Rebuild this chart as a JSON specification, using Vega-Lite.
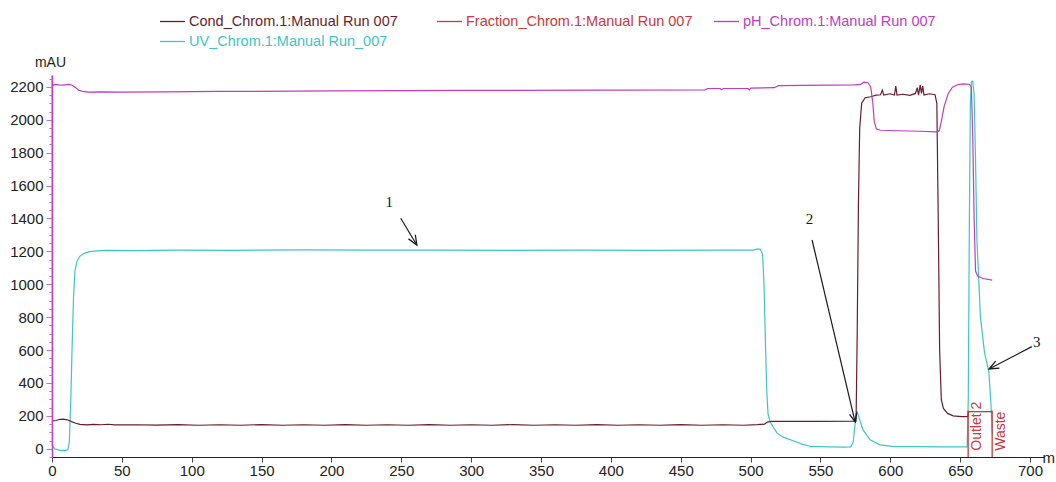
{
  "$schema": "https://vega.github.io/schema/vega-lite/v6.json",
  "width": 992,
  "height": 382,
  "autosize": {"type": "none"},
  "padding": {"left": 52, "top": 75, "right": 12, "bottom": 25},
  "background": "white",
  "config": {
    "view": {"stroke": null},
    "font": "Liberation Sans",
    "axis": {"grid": false, "labelFont": "Liberation Sans", "titleFont": "Liberation Sans"}
  },
  "resolve": {"scale": {"y": "shared", "x": "shared"}, "axis": {"y": "independent"}},
  "datasets": {
    "traces": [
      {"series": "UV", "ml": 0, "mAU": 2268}, {"series": "UV", "ml": 0.3, "mAU": 20}, {"series": "UV", "ml": 2, "mAU": 0},
      {"series": "UV", "ml": 4, "mAU": -5}, {"series": "UV", "ml": 6, "mAU": -10}, {"series": "UV", "ml": 10, "mAU": -10},
      {"series": "UV", "ml": 11.4, "mAU": -6}, {"series": "UV", "ml": 12.4, "mAU": 40}, {"series": "UV", "ml": 13.4, "mAU": 280},
      {"series": "UV", "ml": 14.4, "mAU": 620}, {"series": "UV", "ml": 15.4, "mAU": 920}, {"series": "UV", "ml": 16.4, "mAU": 1080},
      {"series": "UV", "ml": 17.9, "mAU": 1140}, {"series": "UV", "ml": 19.9, "mAU": 1170}, {"series": "UV", "ml": 22.9, "mAU": 1188},
      {"series": "UV", "ml": 26.8, "mAU": 1198}, {"series": "UV", "ml": 31.8, "mAU": 1203}, {"series": "UV", "ml": 39.8, "mAU": 1206},
      {"series": "UV", "ml": 59.7, "mAU": 1204}, {"series": "UV", "ml": 89.5, "mAU": 1208}, {"series": "UV", "ml": 129.3, "mAU": 1206},
      {"series": "UV", "ml": 179, "mAU": 1209}, {"series": "UV", "ml": 228.7, "mAU": 1207}, {"series": "UV", "ml": 278.4, "mAU": 1208},
      {"series": "UV", "ml": 328.1, "mAU": 1206}, {"series": "UV", "ml": 377.8, "mAU": 1207}, {"series": "UV", "ml": 427.5, "mAU": 1206},
      {"series": "UV", "ml": 477.3, "mAU": 1207}, {"series": "UV", "ml": 502.1, "mAU": 1208}, {"series": "UV", "ml": 505.1, "mAU": 1215},
      {"series": "UV", "ml": 507.1, "mAU": 1212}, {"series": "UV", "ml": 508.6, "mAU": 1180}, {"series": "UV", "ml": 509.6, "mAU": 1000},
      {"series": "UV", "ml": 510.6, "mAU": 650}, {"series": "UV", "ml": 511.6, "mAU": 350}, {"series": "UV", "ml": 512.5, "mAU": 210},
      {"series": "UV", "ml": 514, "mAU": 165}, {"series": "UV", "ml": 516, "mAU": 134}, {"series": "UV", "ml": 519, "mAU": 95},
      {"series": "UV", "ml": 523, "mAU": 72}, {"series": "UV", "ml": 530, "mAU": 50}, {"series": "UV", "ml": 536.9, "mAU": 28},
      {"series": "UV", "ml": 542.9, "mAU": 14}, {"series": "UV", "ml": 556.8, "mAU": 12}, {"series": "UV", "ml": 566.7, "mAU": 10},
      {"series": "UV", "ml": 571.7, "mAU": 12}, {"series": "UV", "ml": 573.4, "mAU": 40}, {"series": "UV", "ml": 574.8, "mAU": 150},
      {"series": "UV", "ml": 576.2, "mAU": 230}, {"series": "UV", "ml": 577.7, "mAU": 185}, {"series": "UV", "ml": 580.5, "mAU": 115},
      {"series": "UV", "ml": 585.5, "mAU": 55}, {"series": "UV", "ml": 592.7, "mAU": 24}, {"series": "UV", "ml": 601.5, "mAU": 15},
      {"series": "UV", "ml": 616.5, "mAU": 13}, {"series": "UV", "ml": 636.3, "mAU": 12}, {"series": "UV", "ml": 655, "mAU": 12},
      {"series": "UV", "ml": 655.8, "mAU": 300}, {"series": "UV", "ml": 656.6, "mAU": 1400}, {"series": "UV", "ml": 657.3, "mAU": 2100},
      {"series": "UV", "ml": 658, "mAU": 2232}, {"series": "UV", "ml": 659, "mAU": 2235}, {"series": "UV", "ml": 660, "mAU": 2150},
      {"series": "UV", "ml": 661, "mAU": 1750}, {"series": "UV", "ml": 662, "mAU": 1270}, {"series": "UV", "ml": 664.5, "mAU": 800},
      {"series": "UV", "ml": 667.5, "mAU": 580}, {"series": "UV", "ml": 670.5, "mAU": 470}, {"series": "UV", "ml": 672, "mAU": 280},
      {"series": "UV", "ml": 673, "mAU": 90},

      {"series": "Cond", "ml": 0, "mAU": 170}, {"series": "Cond", "ml": 3, "mAU": 172}, {"series": "Cond", "ml": 5, "mAU": 178},
      {"series": "Cond", "ml": 8, "mAU": 180}, {"series": "Cond", "ml": 11, "mAU": 176}, {"series": "Cond", "ml": 14, "mAU": 165},
      {"series": "Cond", "ml": 17, "mAU": 155}, {"series": "Cond", "ml": 20, "mAU": 148}, {"series": "Cond", "ml": 25, "mAU": 145},
      {"series": "Cond", "ml": 30, "mAU": 148}, {"series": "Cond", "ml": 35, "mAU": 146}, {"series": "Cond", "ml": 40, "mAU": 149},
      {"series": "Cond", "ml": 45, "mAU": 145}, {"series": "Cond", "ml": 60, "mAU": 146}, {"series": "Cond", "ml": 75, "mAU": 144},
      {"series": "Cond", "ml": 90, "mAU": 147}, {"series": "Cond", "ml": 105, "mAU": 143}, {"series": "Cond", "ml": 120, "mAU": 146},
      {"series": "Cond", "ml": 135, "mAU": 143}, {"series": "Cond", "ml": 150, "mAU": 147}, {"series": "Cond", "ml": 165, "mAU": 143},
      {"series": "Cond", "ml": 180, "mAU": 146}, {"series": "Cond", "ml": 195, "mAU": 143}, {"series": "Cond", "ml": 210, "mAU": 147},
      {"series": "Cond", "ml": 225, "mAU": 143}, {"series": "Cond", "ml": 240, "mAU": 146}, {"series": "Cond", "ml": 255, "mAU": 143},
      {"series": "Cond", "ml": 270, "mAU": 147}, {"series": "Cond", "ml": 285, "mAU": 143}, {"series": "Cond", "ml": 300, "mAU": 146},
      {"series": "Cond", "ml": 315, "mAU": 143}, {"series": "Cond", "ml": 330, "mAU": 147}, {"series": "Cond", "ml": 345, "mAU": 143},
      {"series": "Cond", "ml": 360, "mAU": 146}, {"series": "Cond", "ml": 375, "mAU": 143}, {"series": "Cond", "ml": 390, "mAU": 147},
      {"series": "Cond", "ml": 405, "mAU": 143}, {"series": "Cond", "ml": 420, "mAU": 146}, {"series": "Cond", "ml": 435, "mAU": 143},
      {"series": "Cond", "ml": 450, "mAU": 147}, {"series": "Cond", "ml": 465, "mAU": 143}, {"series": "Cond", "ml": 480, "mAU": 146},
      {"series": "Cond", "ml": 495, "mAU": 143}, {"series": "Cond", "ml": 505, "mAU": 147}, {"series": "Cond", "ml": 510, "mAU": 150},
      {"series": "Cond", "ml": 512, "mAU": 162}, {"series": "Cond", "ml": 515, "mAU": 166}, {"series": "Cond", "ml": 547, "mAU": 166},
      {"series": "Cond", "ml": 575.5, "mAU": 168}, {"series": "Cond", "ml": 576.3, "mAU": 700}, {"series": "Cond", "ml": 577.2, "mAU": 1500},
      {"series": "Cond", "ml": 578.1, "mAU": 1950}, {"series": "Cond", "ml": 579.5, "mAU": 2100}, {"series": "Cond", "ml": 582, "mAU": 2134},
      {"series": "Cond", "ml": 586, "mAU": 2140}, {"series": "Cond", "ml": 590, "mAU": 2150}, {"series": "Cond", "ml": 593, "mAU": 2152},
      {"series": "Cond", "ml": 594.3, "mAU": 2180}, {"series": "Cond", "ml": 595.3, "mAU": 2150}, {"series": "Cond", "ml": 600, "mAU": 2158},
      {"series": "Cond", "ml": 603, "mAU": 2150}, {"series": "Cond", "ml": 603.9, "mAU": 2205}, {"series": "Cond", "ml": 604.8, "mAU": 2150},
      {"series": "Cond", "ml": 609, "mAU": 2155}, {"series": "Cond", "ml": 614, "mAU": 2148}, {"series": "Cond", "ml": 618, "mAU": 2160},
      {"series": "Cond", "ml": 619.3, "mAU": 2195}, {"series": "Cond", "ml": 620.2, "mAU": 2150}, {"series": "Cond", "ml": 621.4, "mAU": 2212},
      {"series": "Cond", "ml": 622.3, "mAU": 2160}, {"series": "Cond", "ml": 623.2, "mAU": 2205}, {"series": "Cond", "ml": 624.1, "mAU": 2150},
      {"series": "Cond", "ml": 628, "mAU": 2158}, {"series": "Cond", "ml": 632, "mAU": 2152}, {"series": "Cond", "ml": 633.3, "mAU": 2100},
      {"series": "Cond", "ml": 634.3, "mAU": 1400}, {"series": "Cond", "ml": 635.3, "mAU": 600}, {"series": "Cond", "ml": 636.5, "mAU": 300},
      {"series": "Cond", "ml": 638, "mAU": 245}, {"series": "Cond", "ml": 641, "mAU": 215}, {"series": "Cond", "ml": 645, "mAU": 200},
      {"series": "Cond", "ml": 651, "mAU": 196}, {"series": "Cond", "ml": 655.5, "mAU": 196}, {"series": "Cond", "ml": 655.9, "mAU": 225},
      {"series": "Cond", "ml": 672.9, "mAU": 225},

      {"series": "pH", "ml": 0, "mAU": 2205}, {"series": "pH", "ml": 2, "mAU": 2215}, {"series": "pH", "ml": 5, "mAU": 2212},
      {"series": "pH", "ml": 8, "mAU": 2210}, {"series": "pH", "ml": 12, "mAU": 2215}, {"series": "pH", "ml": 14.5, "mAU": 2210},
      {"series": "pH", "ml": 17, "mAU": 2195}, {"series": "pH", "ml": 19, "mAU": 2180}, {"series": "pH", "ml": 22, "mAU": 2172},
      {"series": "pH", "ml": 26, "mAU": 2168}, {"series": "pH", "ml": 35, "mAU": 2170}, {"series": "pH", "ml": 50, "mAU": 2168},
      {"series": "pH", "ml": 80, "mAU": 2170}, {"series": "pH", "ml": 120, "mAU": 2172}, {"series": "pH", "ml": 200, "mAU": 2175},
      {"series": "pH", "ml": 300, "mAU": 2178}, {"series": "pH", "ml": 400, "mAU": 2180}, {"series": "pH", "ml": 467.3, "mAU": 2182},
      {"series": "pH", "ml": 469.3, "mAU": 2190}, {"series": "pH", "ml": 478.2, "mAU": 2190}, {"series": "pH", "ml": 479.2, "mAU": 2182},
      {"series": "pH", "ml": 480.7, "mAU": 2190}, {"series": "pH", "ml": 498.1, "mAU": 2190}, {"series": "pH", "ml": 499.1, "mAU": 2182},
      {"series": "pH", "ml": 500.1, "mAU": 2192}, {"series": "pH", "ml": 517, "mAU": 2195}, {"series": "pH", "ml": 520, "mAU": 2207},
      {"series": "pH", "ml": 556.8, "mAU": 2210}, {"series": "pH", "ml": 574.7, "mAU": 2212}, {"series": "pH", "ml": 578.7, "mAU": 2215},
      {"series": "pH", "ml": 581, "mAU": 2228}, {"series": "pH", "ml": 584, "mAU": 2225}, {"series": "pH", "ml": 586, "mAU": 2200},
      {"series": "pH", "ml": 587.5, "mAU": 2100}, {"series": "pH", "ml": 588.5, "mAU": 1990}, {"series": "pH", "ml": 590, "mAU": 1945},
      {"series": "pH", "ml": 593, "mAU": 1936}, {"series": "pH", "ml": 606, "mAU": 1933}, {"series": "pH", "ml": 621, "mAU": 1930},
      {"series": "pH", "ml": 633, "mAU": 1926}, {"series": "pH", "ml": 635, "mAU": 1932}, {"series": "pH", "ml": 636.5, "mAU": 1990},
      {"series": "pH", "ml": 638.5, "mAU": 2080}, {"series": "pH", "ml": 641.5, "mAU": 2160}, {"series": "pH", "ml": 644.5, "mAU": 2198},
      {"series": "pH", "ml": 648, "mAU": 2213}, {"series": "pH", "ml": 652, "mAU": 2218}, {"series": "pH", "ml": 656.5, "mAU": 2216},
      {"series": "pH", "ml": 658, "mAU": 2200}, {"series": "pH", "ml": 659, "mAU": 1900}, {"series": "pH", "ml": 660, "mAU": 1400},
      {"series": "pH", "ml": 661, "mAU": 1080}, {"series": "pH", "ml": 662.5, "mAU": 1050}, {"series": "pH", "ml": 666.5, "mAU": 1035},
      {"series": "pH", "ml": 672.9, "mAU": 1025}
    ],
    "fractions": [
      {"series": "Fraction", "ml": 655.7, "label": "Outlet 2"},
      {"series": "Fraction", "ml": 672.9, "label": "Waste"}
    ],
    "callout_tags": [
      {"tag": "1", "ml": 241.4, "mAU": 1502},
      {"tag": "2", "ml": 542.1, "mAU": 1395},
      {"tag": "3", "ml": 704.9, "mAU": 651}
    ],
    "callout_lines": [
      {"tag": "1", "ml": 249.6, "mAU": 1401, "ml_tip": 261.1, "mAU_tip": 1239},
      {"tag": "2", "ml": 544.0, "mAU": 1269, "ml_tip": 574.8, "mAU_tip": 163},
      {"tag": "3", "ml": 701.3, "mAU": 621, "ml_tip": 670.7, "mAU_tip": 485}
    ],
    "callout_tips": [
      {"tag": "1", "ml": 261.1, "mAU": 1239},
      {"tag": "2", "ml": 574.8, "mAU": 163},
      {"tag": "3", "ml": 670.7, "mAU": 485}
    ]
  },
  "layer": [
    {
      "data": {"name": "traces"},
      "mark": {"type": "line", "strokeWidth": 1.2, "interpolate": "linear"},
      "encoding": {
        "x": {
          "field": "ml", "type": "quantitative",
          "scale": {"domain": [0, 710], "nice": false, "zero": false},
          "axis": {
            "values": [0, 12.5, 25, 37.5, 50, 62.5, 75, 87.5, 100, 112.5, 125, 137.5, 150, 162.5, 175, 187.5, 200, 212.5, 225, 237.5, 250, 262.5, 275, 287.5, 300, 312.5, 325, 337.5, 350, 362.5, 375, 387.5, 400, 412.5, 425, 437.5, 450, 462.5, 475, 487.5, 500, 512.5, 525, 537.5, 550, 562.5, 575, 587.5, 600, 612.5, 625, 637.5, 650, 662.5, 675, 687.5, 700],
            "format": "d",
            "labelExpr": "datum.value % 50 === 0 ? datum.label : ''",
            "tickSize": {"condition": {"test": "datum.value % 50 === 0", "value": 5}, "value": 3},
            "labelOverlap": false,
            "labelFlush": false,
            "labelFontSize": 15,
            "labelColor": "#222",
            "labelPadding": 1,
            "domainColor": "#222",
            "domainWidth": 1.2,
            "tickColor": "#444",
            "title": "m",
            "titleX": 990,
            "titleY": 0,
            "titleAlign": "left",
            "titleBaseline": "middle",
            "titleFontSize": 15,
            "titleFontWeight": "normal",
            "titleColor": "#222"
          }
        },
        "y": {
          "field": "mAU", "type": "quantitative",
          "scale": {"domain": [-50, 2272], "nice": false, "zero": false},
          "axis": {
            "orient": "left",
            "values": [0, 200, 400, 600, 800, 1000, 1200, 1400, 1600, 1800, 2000, 2200],
            "format": "d",
            "tickSize": 6,
            "labelOverlap": false,
            "labelFlush": false,
            "labelFontSize": 15,
            "labelColor": "#222",
            "labelPadding": 3,
            "domainColor": "#c23bc2",
            "domainWidth": 1.5,
            "tickColor": "#c86ac8",
            "zindex": 1,
            "title": "mAU",
            "titleAngle": 0,
            "titleX": -2,
            "titleY": -13,
            "titleAlign": "center",
            "titleBaseline": "middle",
            "titleFontSize": 14,
            "titleFontWeight": "normal",
            "titleColor": "#222"
          }
        },
        "color": {
          "field": "series", "type": "nominal",
          "scale": {"domain": ["Cond", "Fraction", "pH", "UV"], "range": ["#6a1c2c", "#d0363a", "#c23bc2", "#3cc6c6"]},
          "legend": {
            "orient": "none",
            "legendX": 107,
            "legendY": -67,
            "direction": "horizontal",
            "columns": 3,
            "gridAlign": "all",
            "columnPadding": 18,
            "rowPadding": -6,
            "title": null,
            "symbolType": "stroke",
            "symbolSize": 625,
            "symbolStrokeWidth": 1.3,
            "labelFont": "Liberation Sans",
            "labelFontSize": 14.5,
            "labelOffset": 3,
            "labelLimit": 0,
            "labelExpr": "{'Cond': 'Cond_Chrom.1:Manual Run 007', 'Fraction': 'Fraction_Chrom.1:Manual Run 007', 'pH': 'pH_Chrom.1:Manual Run 007', 'UV': 'UV_Chrom.1:Manual Run_007'}[datum.label]",
            "encode": {"labels": {"update": {"fill": {"scale": "color", "field": "value"}}}}
          }
        }
      }
    },
    {
      "data": {"name": "fractions"},
      "mark": {"type": "rule", "strokeWidth": 1.3},
      "encoding": {
        "x": {"field": "ml", "type": "quantitative"},
        "y": {"datum": -50, "type": "quantitative", "axis": null},
        "y2": {"datum": 232},
        "color": {"field": "series", "type": "nominal"}
      }
    },
    {
      "data": {"name": "fractions"},
      "mark": {"type": "text", "angle": 270, "align": "left", "baseline": "top", "dy": 2, "fontSize": 14, "font": "Liberation Sans", "color": "#d0363a"},
      "encoding": {
        "x": {"field": "ml", "type": "quantitative"},
        "y": {"datum": -12, "type": "quantitative", "axis": null},
        "text": {"field": "label"}
      }
    },
    {
      "data": {"name": "callout_lines"},
      "mark": {"type": "rule", "strokeWidth": 1.2, "color": "#1a1a1a"},
      "encoding": {
        "x": {"field": "ml", "type": "quantitative"},
        "y": {"field": "mAU", "type": "quantitative", "axis": null},
        "x2": {"field": "ml_tip"},
        "y2": {"field": "mAU_tip"}
      }
    },
    {
      "data": {"name": "callout_tips"},
      "transform": [{"filter": "datum.tag === '1'"}],
      "mark": {"type": "point", "shape": "M-0.42,-1L0,0L0.42,-1", "size": 360, "filled": false, "stroke": "#1a1a1a", "strokeWidth": 1.3, "opacity": 1, "angle": 329},
      "encoding": {"x": {"field": "ml", "type": "quantitative"}, "y": {"field": "mAU", "type": "quantitative", "axis": null}}
    },
    {
      "data": {"name": "callout_tips"},
      "transform": [{"filter": "datum.tag === '2'"}],
      "mark": {"type": "point", "shape": "M-0.42,-1L0,0L0.42,-1", "size": 300, "filled": false, "stroke": "#1a1a1a", "strokeWidth": 1.3, "opacity": 1, "angle": 346.7},
      "encoding": {"x": {"field": "ml", "type": "quantitative"}, "y": {"field": "mAU", "type": "quantitative", "axis": null}}
    },
    {
      "data": {"name": "callout_tips"},
      "transform": [{"filter": "datum.tag === '3'"}],
      "mark": {"type": "point", "shape": "M-0.42,-1L0,0L0.42,-1", "size": 360, "filled": false, "stroke": "#1a1a1a", "strokeWidth": 1.3, "opacity": 1, "angle": 62.4},
      "encoding": {"x": {"field": "ml", "type": "quantitative"}, "y": {"field": "mAU", "type": "quantitative", "axis": null}}
    },
    {
      "data": {"name": "callout_tags"},
      "mark": {"type": "text", "font": "Liberation Serif", "fontSize": 15, "color": "#1a1a1a", "align": "center", "baseline": "middle"},
      "encoding": {
        "x": {"field": "ml", "type": "quantitative"},
        "y": {
          "field": "mAU", "type": "quantitative",
          "axis": {
            "orient": "left",
            "values": [-50, 50, 100, 150, 250, 300, 350, 450, 500, 550, 650, 700, 750, 850, 900, 950, 1050, 1100, 1150, 1250, 1300, 1350, 1450, 1500, 1550, 1650, 1700, 1750, 1850, 1900, 1950, 2050, 2100, 2150, 2250],
            "labels": false,
            "domain": false,
            "tickSize": 3,
            "tickColor": "#c86ac8",
            "zindex": 1,
            "title": null
          }
        },
        "text": {"field": "tag"}
      }
    }
  ]
}
